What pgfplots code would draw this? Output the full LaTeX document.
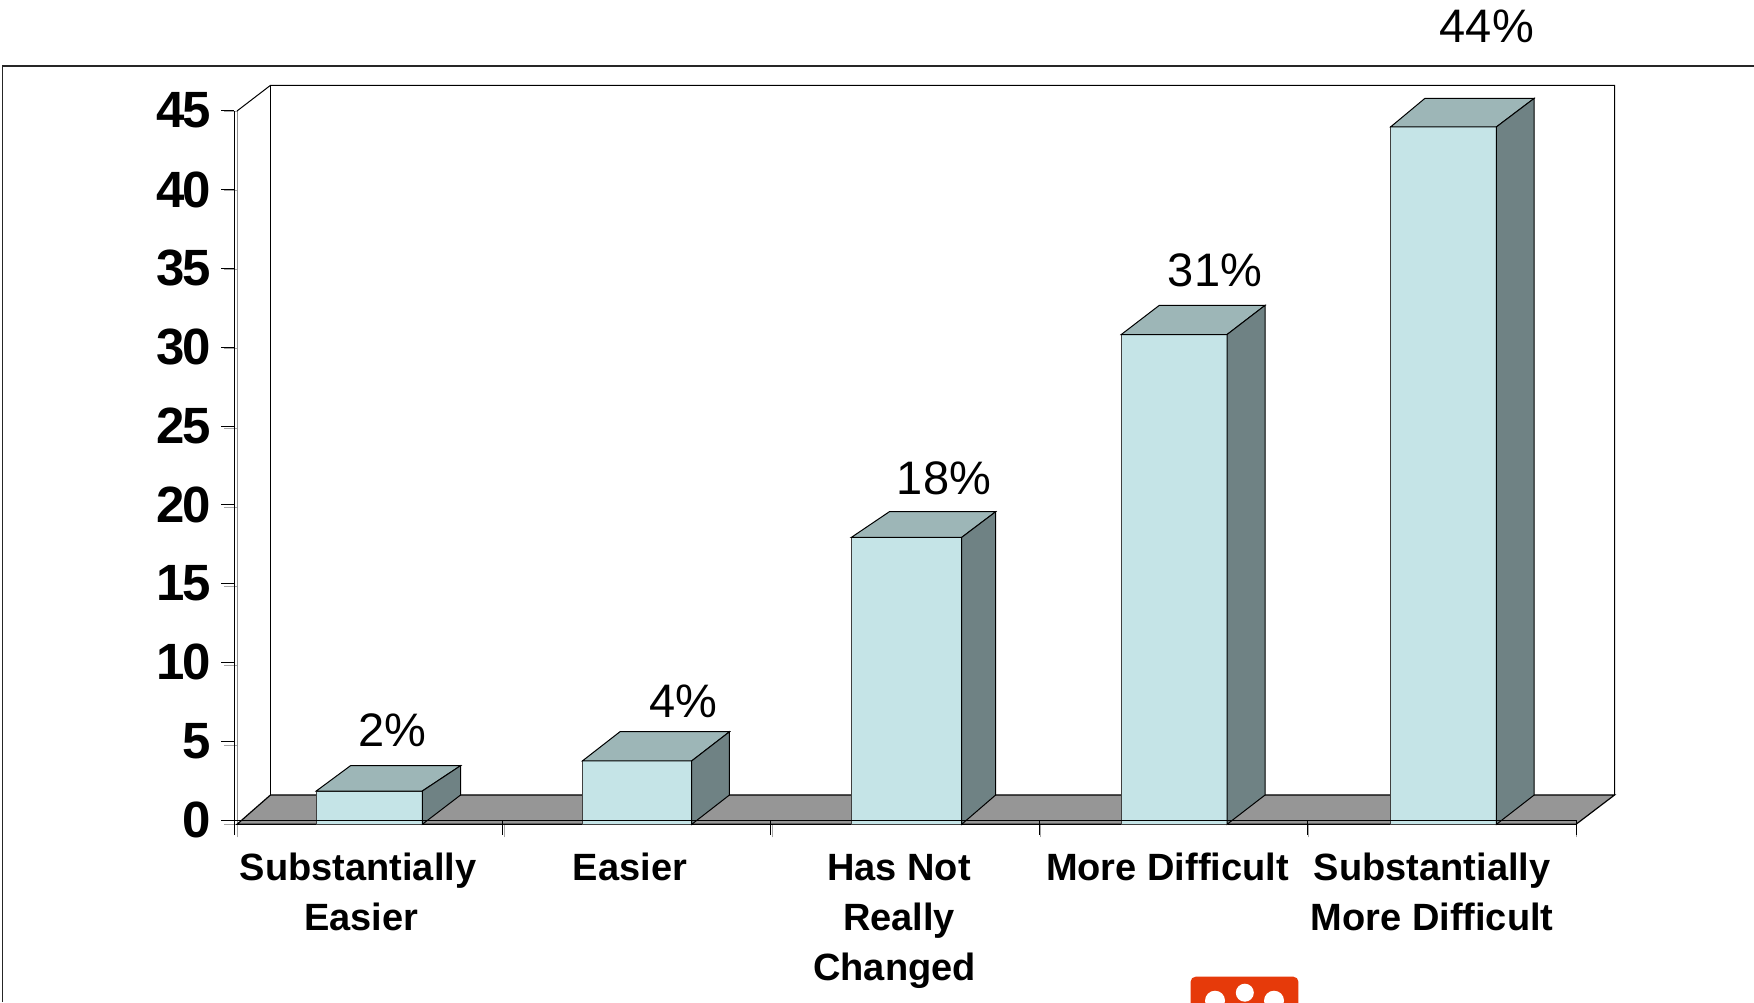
\documentclass[border=0pt]{standalone}
\usepackage{fontspec}
\usepackage{pgfplots}
\pgfplotsset{compat=1.18}
\setmainfont{Liberation Sans}
\newfontfamily\yfont[LetterSpace=-5]{Liberation Sans}
\definecolor{barfront}{HTML}{C5E4E7}
\definecolor{bartop}{HTML}{9DB6B7}
\definecolor{barside}{HTML}{6F8284}
\definecolor{floorc}{HTML}{969696}
\definecolor{logored}{HTML}{E63A0A}
% xl, xr, value, back xl, back xr, back value
\newcommand{\threedbar}[6]{%
  \addplot[fill=barfront, draw=black!75, line width=0.5pt] coordinates {(#1,0) (#1,#3) (#2,#3) (#2,0)} --cycle;
  \addplot[fill=bartop, draw=black, line width=0.5pt] coordinates {(#1,#3) (#4,#6) (#5,#6) (#2,#3)} --cycle;
  \addplot[fill=barside, draw=black, line width=0.5pt] coordinates {(#2,0) (#2,#3) (#5,#6) (#5,1.85)} --cycle;
}
\begin{document}
\begin{tikzpicture}[x=1pt,y=1pt]
\path[use as bounding box] (0,0) rectangle (877,501);
% frame of the slide
\draw[black!85, line width=0.6pt] (1.2,0) -- (1.2,468) -- (877,468);
\begin{axis}[
at={(118.5pt,88.85pt)}, anchor=south west,
scale only axis, width=669.5pt, height=356.65pt,
xmin=0, xmax=5, ymin=0, ymax=45,
clip=false,
axis x line*=bottom, axis y line*=left,
axis line style={black!45, line width=0.5pt},
tick align=outside,
tick style={black!35, line width=0.4pt},
major tick length=6.5pt,
xtick={0,1,2,3,4,5}, ytick={0,5,...,45},
xticklabel=\empty, yticklabel=\empty,
]
% walls
\addplot[black, line width=0.5pt] coordinates {(0,45) (0.125,46.62) (5.144,46.62) (5.144,1.85)};
\addplot[black, line width=0.5pt] coordinates {(0.125,1.85) (0.125,46.62)};
% floor
\addplot[fill=floorc, draw=black, line width=0.6pt] coordinates {(0,0) (0.125,1.85) (5.144,1.85) (5,0)} --cycle;
% bars
\threedbar{0.296}{0.692}{2.1}{0.424}{0.835}{3.7}
\threedbar{1.290}{1.698}{4.0}{1.430}{1.839}{5.84}
\threedbar{2.294}{2.706}{18.1}{2.436}{2.833}{19.72}
\threedbar{3.302}{3.697}{30.9}{3.444}{3.839}{32.74}
\threedbar{4.308}{4.703}{44.0}{4.436}{4.844}{45.8}
% value labels
\node[anchor=base, inner sep=0pt, font=\fontsize{23.5}{26}\selectfont] at (axis cs:0.579,4.94) {2\%};
\node[anchor=base, inner sep=0pt, font=\fontsize{23.5}{26}\selectfont] at (axis cs:1.667,6.71) {4\%};
\node[anchor=base, inner sep=0pt, font=\fontsize{23.5}{26}\selectfont] at (axis cs:2.640,20.82) {18\%};
\node[anchor=base, inner sep=0pt, font=\fontsize{23.5}{26}\selectfont] at (axis cs:3.652,33.92) {31\%};
\node[anchor=base, inner sep=0pt, font=\fontsize{23.5}{26}\selectfont] at (axis cs:4.667,49.31) {44\%};
\end{axis}
\begin{axis}[
at={(117pt,91pt)}, anchor=south west,
scale only axis, width=671pt, height=354.65pt,
xmin=0, xmax=5, ymin=0, ymax=45,
clip=false,
axis x line*=bottom, axis y line*=left,
axis line style={black, line width=0.5pt},
tick align=outside,
tick style={black, line width=0.4pt},
major tick length=6.5pt,
minor tick length=7.5pt,
major x tick style={draw=none},
xtick={0.462,1.475,2.478,3.478,4.464},
minor xtick={0,1,2,3,4,5},
ytick={0,5,...,45},
xticklabels={Substantially\\\hspace*{3.4pt}Easier, Easier, \rule{0pt}{13.6pt}Has Not\\Really\\Changed\hspace*{4.5pt}, More Difficult, Substantially\\More Difficult},
/pgf/number format/assume math mode=true,
yticklabel style={font=\yfont\bfseries\fontsize{25.5}{26}\selectfont, inner sep=0pt, xshift=-5pt},
xticklabel style={font=\bfseries\fontsize{19}{25}\selectfont, align=center, anchor=north, inner sep=0pt, yshift=-9.7pt},
]
\end{axis}
% logo at the foot of the slide
\begin{scope}
\clip (0,0) rectangle (877,501);
\fill[logored, rounded corners=2.5pt] (595.3,-8) rectangle (649.2,12.65);
\fill[white] (622.4,4.65) circle (4.5);
\fill[white] (607.5,0.65) circle (5);
\fill[white] (637,0.65) circle (5);
\end{scope}
\end{tikzpicture}
\end{document}
